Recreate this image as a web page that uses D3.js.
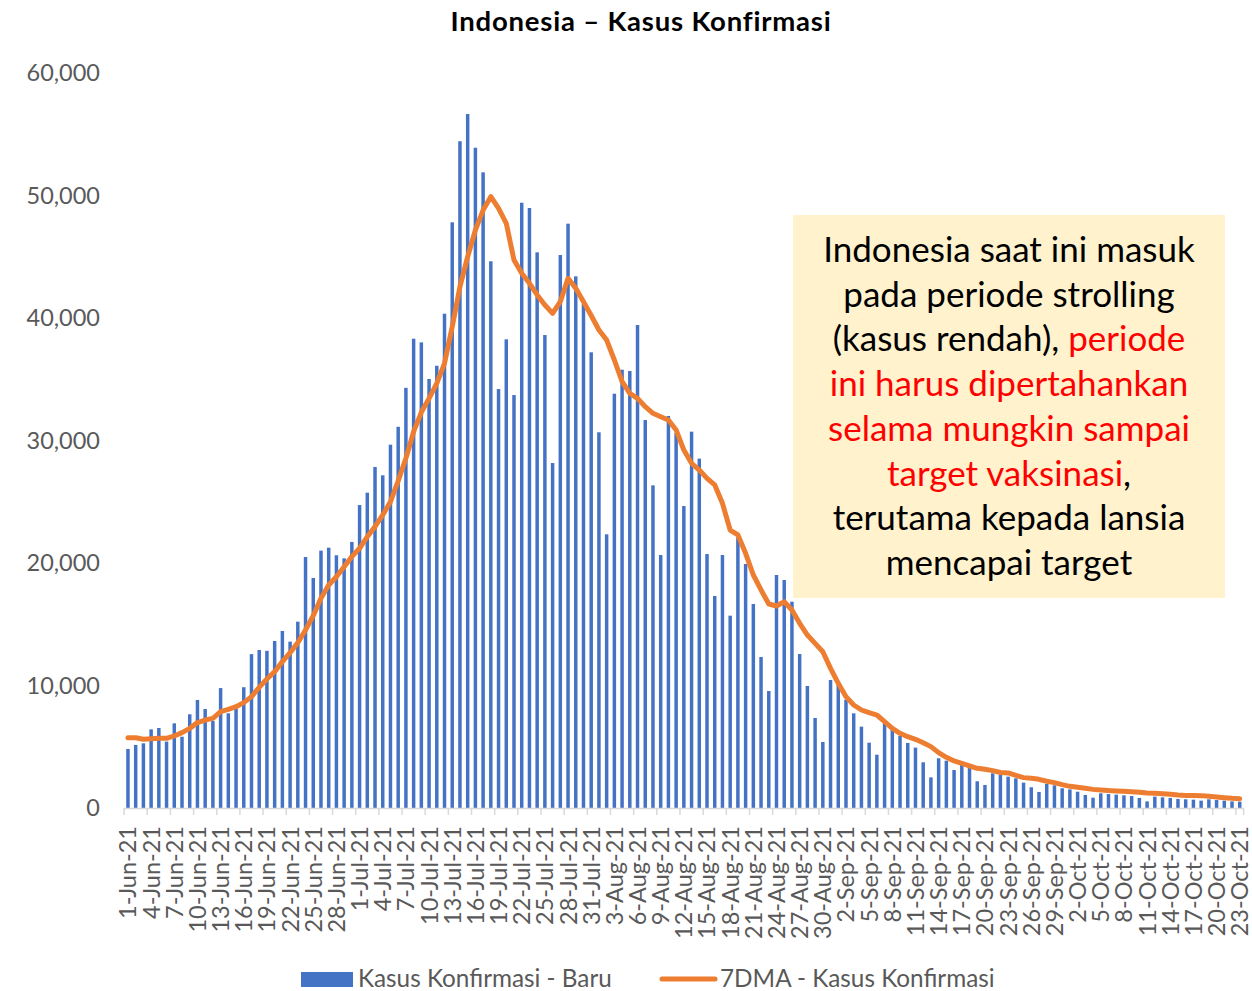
<!DOCTYPE html>
<html><head><meta charset="utf-8">
<script src="https://cdn.jsdelivr.net/npm/d3@7"></script>
<style>
body{margin:0;background:#fff;}
svg{display:block;font-family:Lato,"Open Sans",sans-serif;}
</style>
</head><body><svg id="c" width="1252" height="991"></svg>
<script>
// ---- data ----
const startDate = new Date(2021, 5, 1);
const endDate = new Date(2021, 9, 24);
const categories = d3.timeDay.range(startDate, endDate).map(d3.timeFormat("%-d-%b-%y"));

const baruJun = [4820,5150,5280,6420,6530,5420,6910,5820,7650,8820,8080,7100,9790,7730,8100,9860,12560,12900,12830,13630,14450,13580,15210,20490,18780,21010,21250,20630,20380,21720];
const baruJul = [24730,25740,27840,27160,29660,31120,34300,38310,38010,35020,36100,40350,47810,54430,56650,53900,51890,44630,34200,38260,33710,49410,48980,45360,38610,28160,45140,47700,43400,41140,37200];
const baruAug = [30670,22340,33820,35780,35670,39430,31670,26340,20650,32000,30620,24650,30720,28520,20730,17310,20650,15700,22100,19920,16650,12330,9550,19020,18610,16840,12570,9960,7350,5390,10450];
const baruSep = [10180,8840,7730,6640,5330,4350,7020,6450,5900,5310,4930,3730,2500,4060,3860,3100,3510,3320,2180,1880,2830,2700,2560,2420,2070,1690,1310,1960,1850,1610];
const baruOct = [1520,1330,1060,840,1200,1140,1090,1030,980,820,540,930,870,820,740,710,680,600,710,650,600,540,520];

const dmaJun = [5740,5740,5610,5660,5690,5690,5880,6150,6500,6970,7180,7320,7860,8050,8270,8600,9090,9850,10530,11130,11950,12680,13500,14530,15700,17120,18200,18880,19700,20520];
const dmaJul = [21200,22150,22970,23920,25010,26700,28550,30720,32300,33440,34670,36300,39290,42560,45000,47180,48810,49900,48950,47730,44730,43650,42830,41880,41060,40380,41330,43240,42420,41330,40200];
const dmaAug = [39020,38200,36570,34800,33850,33440,32760,32220,31940,31670,30860,29220,28140,27590,26910,26370,24870,22690,22290,20790,19020,17800,16650,16490,16840,16160,15080,14120,13440,12760,11400];
const dmaSep = [10180,9090,8410,8000,7780,7590,7050,6500,6100,5820,5610,5330,5010,4520,4140,3840,3650,3430,3240,3160,3050,2900,2860,2670,2480,2420,2340,2180,2070,1910];
const dmaOct = [1770,1690,1610,1520,1470,1420,1390,1360,1330,1280,1220,1200,1170,1120,1060,1030,1030,1010,950,900,840,790,760];

const baru = [].concat(baruJun, baruJul, baruAug, baruSep, baruOct);
const dma7 = [].concat(dmaJun, dmaJul, dmaAug, dmaSep, dmaOct);

const yTicks = [0, 10000, 20000, 30000, 40000, 50000, 60000];
const tickEvery = 3;
const title = "Indonesia \u2013 Kasus Konfirmasi";
const legendLabels = ["Kasus Konfirmasi - Baru", "7DMA - Kasus Konfirmasi"];
const noteLines = [
  [["Indonesia saat ini masuk", "black"]],
  [["pada periode strolling", "black"]],
  [["(kasus rendah), ", "black"], ["periode", "red"]],
  [["ini harus dipertahankan", "red"]],
  [["selama mungkin sampai", "red"]],
  [["target vaksinasi", "red"], [",", "black"]],
  [["terutama kepada lansia", "black"]],
  [["mencapai target", "black"]]
];

// ---- chart ----
const svg = d3.select("#c");
const blue = "#4472c4", orange = "#ed7d31", axisText = "#595959", axisLine = "#d9d9d9";

const x = d3.scaleBand().domain(categories).range([124.1, 1243.6]).paddingInner(0.55).paddingOuter(0.275);
const y = d3.scaleLinear().domain([0, 60000]).range([808, 73]);
const step = x.step(), bw = x.bandwidth();
const cx = c => x(c) + bw / 2;

// title
svg.append("text").attr("x", 641).attr("y", 31).attr("text-anchor", "middle")
  .attr("font-weight", "bold").attr("font-size", 27.5).attr("letter-spacing", 0.8)
  .attr("fill", "#000").text(title);

// y axis labels
const yAxis = d3.axisLeft(y).tickValues(yTicks).tickFormat(d3.format(",")).tickSize(0).tickPadding(0);
const gy = svg.append("g").attr("transform", "translate(100,0)").call(yAxis);
gy.select(".domain").remove();
gy.selectAll("text").attr("font-size", 23.5).attr("fill", axisText).attr("font-family", "Lato,'Open Sans',sans-serif");

// bars
svg.append("g").selectAll("rect").data(categories).join("rect")
  .attr("x", d => x(d)).attr("width", bw)
  .attr("y", (d, i) => y(baru[i])).attr("height", (d, i) => y(0) - y(baru[i]))
  .attr("fill", blue);

// x axis
const xAxis = d3.axisBottom(x).tickValues(categories.filter((d, i) => i % tickEvery === 0)).tickSize(0).tickPadding(0);
const gx = svg.append("g").attr("transform", "translate(0,808)").call(xAxis);
gx.select(".domain").attr("stroke", axisLine).attr("stroke-width", 1.5);
gx.selectAll(".tick line").remove();
gx.selectAll(".tick text")
  .attr("font-size", 23.5).attr("fill", axisText).attr("font-family", "Lato,'Open Sans',sans-serif")
  .attr("text-anchor", "end").attr("transform", "translate(0,18) rotate(-90)")
  .attr("x", 0).attr("y", 0).attr("dy", "0.36em");
// tick marks at category boundaries
svg.append("g").selectAll("line")
  .data(categories.filter((d, i) => i % tickEvery === 0).concat([null]))
  .join("line")
  .attr("x1", d => d === null ? x.range()[1] : x(d) + bw / 2 - step / 2)
  .attr("x2", d => d === null ? x.range()[1] : x(d) + bw / 2 - step / 2)
  .attr("y1", 808).attr("y2", 815).attr("stroke", axisLine).attr("stroke-width", 1.5);

// 7DMA line
const line = d3.line().x((d, i) => cx(categories[i])).y(d => y(d));
svg.append("path").datum(dma7).attr("d", line).attr("fill", "none")
  .attr("stroke", orange).attr("stroke-width", 5).attr("stroke-linejoin", "round").attr("stroke-linecap", "round");

// annotation box
svg.append("rect").attr("x", 793).attr("y", 215).attr("width", 432).attr("height", 383).attr("fill", "#fff2cc");
const note = svg.append("g");
noteLines.forEach((parts, k) => {
  const t = note.append("text").attr("x", 1009).attr("y", 262 + k * 44.7).attr("text-anchor", "middle")
    .attr("font-size", 35).attr("font-family", "Lato,'Open Sans',sans-serif");
  parts.forEach(p => t.append("tspan").attr("fill", p[1] === "red" ? "#ff0000" : "#000000").text(p[0]));
});

// legend
const lg = svg.append("g");
lg.append("rect").attr("x", 301).attr("y", 972).attr("width", 52).attr("height", 15).attr("fill", blue);
lg.append("text").attr("x", 358).attr("y", 987).attr("font-size", 24.3).attr("fill", axisText).text(legendLabels[0]);
lg.append("line").attr("x1", 662).attr("x2", 715).attr("y1", 979).attr("y2", 979)
  .attr("stroke", orange).attr("stroke-width", 5).attr("stroke-linecap", "round");
lg.append("text").attr("x", 720).attr("y", 987).attr("font-size", 24.3).attr("fill", axisText).text(legendLabels[1]);
</script>
</body></html>
